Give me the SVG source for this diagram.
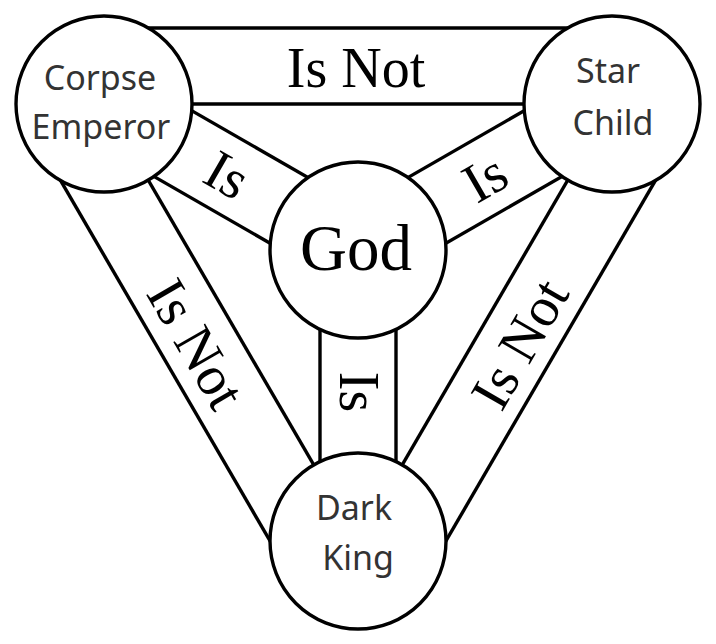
<svg xmlns="http://www.w3.org/2000/svg" width="716" height="644" viewBox="0 0 716 644">
<style>
.band{stroke:#000;stroke-width:3.4;fill:none;stroke-linecap:butt}
.node{fill:#fff;stroke:#000;stroke-width:3.4}
.sans{font-family:"Noto Sans","Liberation Sans",sans-serif;font-size:34px;fill:#333;text-anchor:middle}
.serif{font-family:"Liberation Serif","Times New Roman",serif;font-size:56px;fill:#000;text-anchor:middle}
</style>
<rect width="716" height="644" fill="#fff"/>
<g id="connectors">
  <line class="band" x1="104" y1="104" x2="612" y2="104"/>
  <line class="band" x1="104" y1="28" x2="612" y2="28"/>
  <line class="band" x1="104" y1="104" x2="358" y2="541"/>
  <line class="band" x1="38.3" y1="142.2" x2="292.3" y2="579.2"/>
  <line class="band" x1="612" y1="104" x2="358" y2="541"/>
  <line class="band" x1="677.7" y1="142.2" x2="423.7" y2="579.2"/>
  <line class="band" x1="85.1" y1="136.9" x2="339.1" y2="282.9"/>
  <line class="band" x1="122.9" y1="71.1" x2="376.9" y2="217.1"/>
  <line class="band" x1="630.9" y1="136.9" x2="376.9" y2="282.9"/>
  <line class="band" x1="593.1" y1="71.1" x2="339.1" y2="217.1"/>
  <line class="band" x1="320" y1="250" x2="320" y2="541"/>
  <line class="band" x1="396" y1="250" x2="396" y2="541"/>
  <text class="serif" x="356" y="87">Is Not</text>
  <text class="serif" transform="translate(196,344) rotate(60)" y="18.5">Is Not</text>
  <text class="serif" transform="translate(520,344) rotate(-60)" y="18.5">Is Not</text>
  <text class="serif" transform="translate(227,175) rotate(30)" y="18.5">Is</text>
  <text class="serif" transform="translate(485,178) rotate(-30)" y="18.5">Is</text>
  <text class="serif" transform="translate(358,392) rotate(90)" y="18.5">Is</text>
</g>
<g id="corpse-emperor">
  <circle class="node" cx="104" cy="104" r="88"/>
  <text class="sans" x="100" y="90">Corpse</text>
  <text class="sans" x="101" y="139">Emperor</text>
</g>
<g id="star-child">
  <circle class="node" cx="612" cy="104" r="88"/>
  <text class="sans" x="608" y="83">Star</text>
  <text class="sans" x="613" y="135">Child</text>
</g>
<g id="god">
  <circle class="node" cx="358" cy="250" r="88"/>
  <text class="serif" x="356" y="270" style="font-size:65px">God</text>
</g>
<g id="dark-king">
  <circle class="node" cx="358" cy="541" r="88"/>
  <text class="sans" x="354" y="520">Dark</text>
  <text class="sans" x="358" y="570">King</text>
</g>
</svg>
